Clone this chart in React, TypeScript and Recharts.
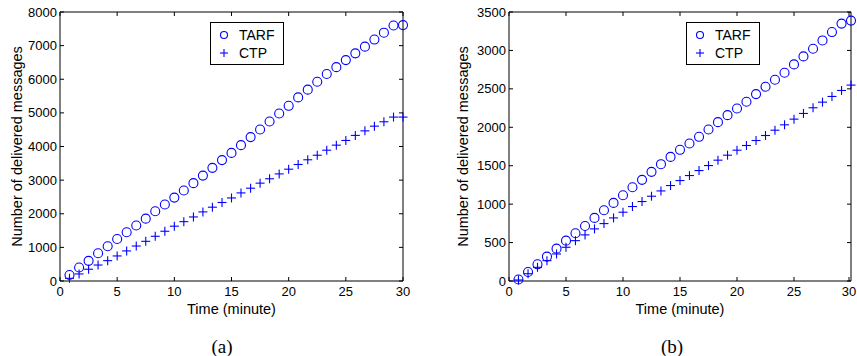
import React from "react";
import {
  ScatterChart,
  Scatter,
  XAxis,
  YAxis,
  ReferenceArea,
  Legend,
} from "recharts";

// time in minutes, one sample every 50 s
const timeMin = [
  0.83, 1.67, 2.5, 3.33, 4.17, 5, 5.83, 6.67, 7.5, 8.33, 9.17, 10, 10.83, 11.67,
  12.5, 13.33, 14.17, 15, 15.83, 16.67, 17.5, 18.33, 19.17, 20, 20.83, 21.67,
  22.5, 23.33, 24.17, 25, 25.83, 26.67, 27.5, 28.33, 29.17, 30,
];

const tarfA = [
  180, 400, 600, 825, 1035, 1250, 1450, 1650, 1855, 2075, 2275, 2480, 2690,
  2910, 3135, 3365, 3595, 3810, 4040, 4280, 4505, 4745, 4980, 5210, 5460, 5690,
  5925, 6155, 6360, 6570, 6770, 6970, 7180, 7385, 7600, 7610,
];
const ctpA = [
  80, 210, 350, 475, 605, 745, 895, 1040, 1180, 1330, 1480, 1630, 1765, 1905,
  2055, 2195, 2335, 2470, 2620, 2760, 2910, 3040, 3185, 3325, 3465, 3605, 3740,
  3890, 4040, 4180, 4330, 4465, 4605, 4735, 4875, 4875,
];

const tarfB = [
  20, 117, 217, 317, 421, 525, 621, 716, 821, 921, 1016, 1116, 1220, 1316,
  1420, 1520, 1615, 1707, 1789, 1876, 1971, 2067, 2158, 2245, 2332, 2432, 2527,
  2618, 2710, 2818, 2922, 3022, 3130, 3239, 3349, 3388,
];
const ctpB = [
  13, 95, 178, 265, 352, 439, 525, 600, 678, 747, 821, 895, 969, 1034, 1103,
  1172, 1242, 1307, 1372, 1437, 1502, 1572, 1637, 1702, 1763, 1828, 1893, 1962,
  2032, 2106, 2180, 2254, 2327, 2401, 2479, 2549,
];

const xTicks = [0, 5, 10, 15, 20, 25, 30];
const yTicksA = [0, 1000, 2000, 3000, 4000, 5000, 6000, 7000, 8000];
const yTicksB = [0, 500, 1000, 1500, 2000, 2500, 3000, 3500];

const BLUE = "#0000ff";
const FONT = "'Liberation Sans', Arial, Helvetica, sans-serif";
const TOP = 12;
const BOTTOM = 281;

const toPoints = (ys: number[]) => ys.map((y, i) => ({ x: timeMin[i], y }));

const CircleMark = (p: any) => (
  <circle cx={p.cx} cy={p.cy} r={4.5} fill="none" stroke={BLUE} strokeWidth={1.1} />
);
const PlusMark = (p: any) => (
  <g stroke={BLUE} strokeWidth={1.1}>
    <line x1={p.cx - 4.5} y1={p.cy} x2={p.cx + 4.5} y2={p.cy} />
    <line x1={p.cx} y1={p.cy - 4.5} x2={p.cx} y2={p.cy + 4.5} />
  </g>
);

const LegendBox = () => (
  <div
    style={{
      width: 72,
      height: 41,
      border: "1px solid #000",
      background: "#fff",
      fontFamily: FONT,
      fontSize: 14,
      color: "#000",
      boxSizing: "content-box",
    }}
  >
    <svg width={72} height={41} style={{ display: "block" }}>
      <circle cx={13} cy={12} r={3.5} fill="none" stroke={BLUE} strokeWidth={1.1} />
      <text x={28} y={12} dominantBaseline="central" fontSize={14} fontFamily={FONT}>
        TARF
      </text>
      <line x1={9} y1={30} x2={17} y2={30} stroke={BLUE} strokeWidth={1.1} />
      <line x1={13} y1={26} x2={13} y2={34} stroke={BLUE} strokeWidth={1.1} />
      <text x={28} y={30} dominantBaseline="central" fontSize={14} fontFamily={FONT}>
        CTP
      </text>
    </svg>
  </div>
);

interface PanelProps {
  tarf: number[];
  ctp: number[];
  yTicks: number[];
  width: number;
  marginLeft: number;
  marginRight: number;
  labelOffset: number;
  legendLeft: number;
}

const Panel = ({
  tarf,
  ctp,
  yTicks,
  width,
  marginLeft,
  marginRight,
  labelOffset,
  legendLeft,
}: PanelProps) => {
  const plotLeft = marginLeft + 50;
  const plotRight = width - marginRight;
  const yMax = yTicks[yTicks.length - 1];

  const XTick = ({ x, payload }: any) => (
    <g>
      <line x1={x} y1={BOTTOM} x2={x} y2={BOTTOM - 4} stroke="#000" />
      <line x1={x} y1={TOP} x2={x} y2={TOP + 4} stroke="#000" />
      <text
        x={x}
        y={BOTTOM + 10}
        textAnchor="middle"
        dominantBaseline="central"
        fontSize={13}
        fontFamily={FONT}
        fill="#000"
      >
        {payload.value}
      </text>
    </g>
  );

  const YTick = ({ y, payload }: any) => (
    <g>
      <line x1={plotLeft} y1={y} x2={plotLeft + 4} y2={y} stroke="#000" />
      <line x1={plotRight} y1={y} x2={plotRight - 4} y2={y} stroke="#000" />
      <text
        x={plotLeft - 3}
        y={y}
        textAnchor="end"
        dominantBaseline="central"
        fontSize={13}
        fontFamily={FONT}
        fill="#000"
      >
        {payload.value}
      </text>
    </g>
  );

  return (
    <ScatterChart
      width={width}
      height={356}
      margin={{ top: TOP, right: marginRight, bottom: 356 - BOTTOM - 20, left: marginLeft }}
    >
      <XAxis
        type="number"
        dataKey="x"
        domain={[0, 30]}
        ticks={xTicks}
        height={20}
        axisLine={false}
        tickLine={false}
        tickSize={0}
        tickMargin={0}
        tick={<XTick />}
        label={{
          value: "Time (minute)",
          position: "bottom",
          offset: 3,
          style: { fontSize: 14.5, fontFamily: FONT, fill: "#000" },
        }}
      />
      <YAxis
        type="number"
        dataKey="y"
        domain={[0, yMax]}
        ticks={yTicks}
        width={50}
        axisLine={false}
        tickLine={false}
        tickSize={0}
        tickMargin={0}
        tick={<YTick />}
        label={{
          value: "Number of delivered messages",
          angle: -90,
          position: "insideLeft",
          offset: labelOffset,
          style: { fontSize: 14.5, fontFamily: FONT, fill: "#000", textAnchor: "middle" },
        }}
      />
      <ReferenceArea
        x1={0}
        x2={30}
        y1={0}
        y2={yMax}
        fill="none"
        stroke="#000"
        strokeWidth={1}
      />
      <Scatter
        name="TARF"
        data={toPoints(tarf)}
        shape={CircleMark}
        isAnimationActive={false}
      />
      <Scatter
        name="CTP"
        data={toPoints(ctp)}
        shape={PlusMark}
        isAnimationActive={false}
      />
      <Legend
        layout="horizontal"
        verticalAlign="middle"
        align="center"
        content={() => <LegendBox />}
        wrapperStyle={{ left: legendLeft, top: 22, width: 74 }}
      />
    </ScatterChart>
  );
};

const captionStyle: React.CSSProperties = {
  position: "absolute",
  top: 335,
  width: 60,
  textAlign: "center",
  fontFamily: "'Liberation Serif', 'Times New Roman', serif",
  fontSize: 19,
  color: "#000",
  lineHeight: "24px",
};

export default function App() {
  return (
    <div
      style={{
        position: "absolute",
        left: 0,
        top: 0,
        width: 857,
        height: 356,
        background: "#fff",
        overflow: "hidden",
      }}
    >
      <div style={{ position: "absolute", left: 0, top: 0 }}>
        <Panel
          tarf={tarfA}
          ctp={ctpA}
          yTicks={yTicksA}
          width={430}
          marginLeft={10}
          marginRight={27}
          labelOffset={7}
          legendLeft={210}
        />
      </div>
      <div style={{ position: "absolute", left: 430, top: 0 }}>
        <Panel
          tarf={tarfB}
          ctp={ctpB}
          yTicks={yTicksB}
          width={427}
          marginLeft={29}
          marginRight={6}
          labelOffset={4}
          legendLeft={256}
        />
      </div>
      <div style={{ ...captionStyle, left: 192 }}>(a)</div>
      <div style={{ ...captionStyle, left: 642 }}>(b)</div>
    </div>
  );
}
